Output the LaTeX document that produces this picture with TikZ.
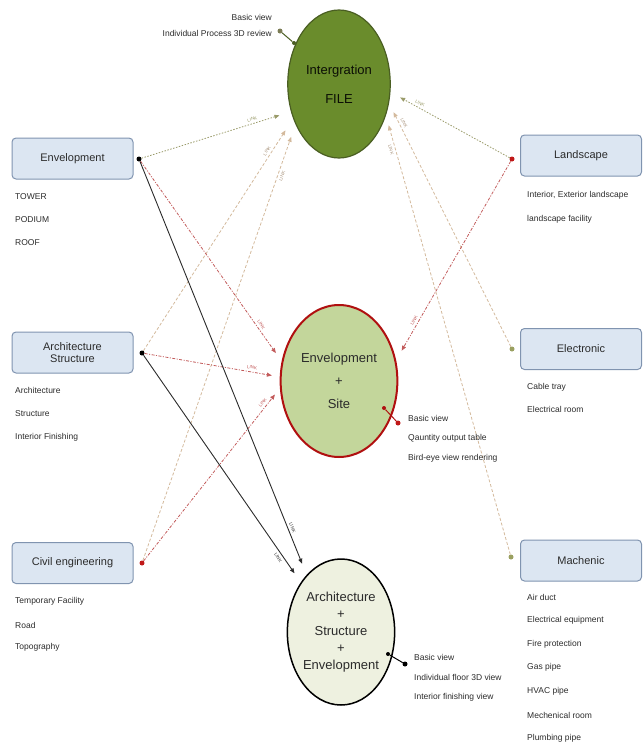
\documentclass[tikz,border=0pt]{standalone}
\usepackage{fontspec}
\setmainfont{Liberation Sans}
\usetikzlibrary{shapes.geometric,arrows.meta}
\definecolor{boxfill}{HTML}{DCE6F2}
\definecolor{boxline}{HTML}{8094B0}
\definecolor{darktext}{HTML}{2B2B2B}
\definecolor{intfill}{HTML}{6A8C2C}
\definecolor{intline}{HTML}{4A5E22}
\definecolor{sitefill}{HTML}{C3D69B}
\definecolor{siteline}{HTML}{B01010}
\definecolor{archfill}{HTML}{EEF1E0}
\definecolor{olivel}{HTML}{9A9B6A}
\definecolor{tanl}{HTML}{D3B99C}
\definecolor{redl}{HTML}{C25A5A}
\definecolor{olivedot}{HTML}{9AA060}
\definecolor{reddot}{HTML}{C01818}

\begin{document}
\begin{tikzpicture}[x=1pt, y=-1pt,
    box/.style={draw=boxline, fill=boxfill, rounded corners=4pt, line width=1pt,
        minimum width=121pt, minimum height=41pt, align=center, text=darktext,
        font=\fontsize{11}{13}\selectfont},
    item/.style={anchor=west, inner sep=0pt, text=darktext, font=\fontsize{8.5}{10}\selectfont},
    note/.style={inner sep=0pt, text=darktext, font=\fontsize{8.5}{10}\selectfont},
    dot/.style={circle, inner sep=0pt, minimum size=5pt},
    link/.style={-{Triangle[length=5pt,width=4pt]}, line width=0.8pt},
    olivelink/.style={link, olivel, dash pattern=on 1.5pt off 1.5pt},
    tanlink/.style={link, tanl, dash pattern=on 3pt off 2pt},
    redlink/.style={link, redl, dash pattern=on 3pt off 1.5pt on 1pt off 1.5pt},
    solidlink/.style={link, darktext, line width=0.9pt},
    lbl/.style={sloped, inner sep=2.5pt, font=\fontsize{4.5}{5}\selectfont}]
    \useasboundingbox (0,0) rectangle (643,747);

    % the three models
    \node[ellipse, draw=intline, fill=intfill, line width=1.2pt, minimum width=101pt,
        minimum height=148pt, align=center, text=black!85!intline,
        font=\fontsize{13}{15}\selectfont] (int) at (339,84) {Intergration\\[14pt]FILE};
    \node[ellipse, draw=siteline, fill=sitefill, line width=2pt, minimum width=100pt,
        minimum height=152pt, align=center, text=darktext,
        font=\fontsize{13}{15}\selectfont] (site) at (339,381) {Envelopment\\[8pt]+\\[8pt]Site};
    \node[ellipse, draw=black, fill=archfill, line width=1.5pt, minimum width=98pt,
        minimum height=146pt, align=center, text=darktext, inner sep=0pt,
        font=\fontsize{13}{15}\selectfont] (arch) at (341,632)
        {Architecture\\[2pt]+\\[2pt]Structure\\[2pt]+\\[2pt]Envelopment};

    % left boxes
    \node[box] (env) at (72.5,158.5) {Envelopment};
    \node[box, font=\fontsize{11}{12}\selectfont] (as) at (72.5,352.5) {Architecture\\Structure};
    \node[box] (civ) at (72.5,563) {Civil engineering};
    \node[item] at (15,197) {TOWER};
    \node[item] at (15,220) {PODIUM};
    \node[item] at (15,243) {ROOF};
    \node[item] at (15,390) {Architecture};
    \node[item] at (15,414) {Structure};
    \node[item] at (15,437) {Interior Finishing};
    \node[item] at (15,601) {Temporary Facility};
    \node[item] at (15,625) {Road};
    \node[item] at (15,647) {Topography};

    % right boxes
    \node[box] (land) at (581,155.5) {Landscape};
    \node[box] (elec) at (581,349) {Electronic};
    \node[box] (mach) at (581,560.5) {Machenic};
    \node[item] at (527,195) {Interior, Exterior landscape};
    \node[item] at (527,219) {landscape facility};
    \node[item] at (527,387) {Cable tray};
    \node[item] at (527,409) {Electrical room};
    \node[item] at (527,597) {Air duct};
    \node[item] at (527,620) {Electrical equipment};
    \node[item] at (527,644) {Fire protection};
    \node[item] at (527,667) {Gas pipe};
    \node[item] at (527,691) {HVAC pipe};
    \node[item] at (527,715) {Mechenical room};
    \node[item] at (527,738) {Plumbing pipe};

    % connection dots
    \node[dot, fill=black] (envd) at (139,159) {};
    \node[dot, fill=black] (asd) at (142,353) {};
    \node[dot, fill=reddot] (civd) at (142,563) {};
    \node[dot, fill=reddot] (landd) at (512,159) {};
    \node[dot, fill=olivedot] (elecd) at (512,349) {};
    \node[dot, fill=olivedot] (machd) at (511,557) {};

    % links to the integration file
    \draw[olivelink, shorten >=12pt] (envd) -- (int.210) node[lbl, pos=0.75, above, olivel] {LINK};
    \draw[tanlink, shorten >=14pt] (asd) -- (int.217) node[lbl, pos=0.85, above, tanl!80!black] {LINK};
    \draw[tanlink, shorten >=13pt] (civd) -- (int.223) node[lbl, pos=0.885, below, tanl!80!black] {LINK};
    \draw[olivelink, shorten >=11pt] (landd) -- (int.351) node[lbl, pos=0.77, above, olivel] {LINK};
    \draw[tanlink, shorten >=10pt] (elecd) -- (int.339) node[lbl, pos=0.91, above, tanl!80!black] {LINK};
    \draw[tanlink, shorten >=10pt] (machd) -- (int.326) node[lbl, pos=0.925, below, tanl!80!black] {LINK};

    % links to envelopment + site
    \draw[redlink, shorten >=10pt] (envd) -- (site.161) node[lbl, pos=0.83, above, redl] {LINK};
    \draw[redlink, shorten >=8pt] (asd) -- (site.176) node[lbl, pos=0.79, above, redl] {LINK};
    \draw[redlink, shorten >=8pt] (civd) -- (site.187) node[lbl, pos=0.9, above, redl] {LINK};
    \draw[redlink, shorten >=11pt] (landd) -- (site.20) node[lbl, pos=0.81, above, redl] {LINK};

    % links to architecture + structure + envelopment
    \draw[solidlink, shorten >=12pt] (envd) -- (arch.121) node[lbl, pos=0.89, above] {LINK};
    \draw[solidlink, shorten >=11pt] (asd) -- (arch.129) node[lbl, pos=0.88, below] {LINK};

    % output notes
    \node[dot, fill=intline, minimum size=4pt] (intb) at (294,43) {};
    \node[dot, fill=olivel!80!black] (intn) at (280,31) {};
    \draw[intline, line width=1pt] (intb) -- (intn);
    \node[note, anchor=east] at (272,17) {Basic view};
    \node[note, anchor=east] at (272,33) {Individual Process 3D review};

    \node[dot, fill=siteline, minimum size=4pt] (siteb) at (384,408) {};
    \node[dot, fill=reddot] (siten) at (398,423) {};
    \draw[siteline, line width=1pt] (siteb) -- (siten);
    \node[note, anchor=west] at (408,418) {Basic view};
    \node[note, anchor=west] at (408,438) {Qauntity output table};
    \node[note, anchor=west] at (408,458) {Bird-eye view rendering};

    \node[dot, fill=black, minimum size=4pt] (archb) at (388,654) {};
    \node[dot, fill=black] (archn) at (405,664) {};
    \draw[black, line width=1pt] (archb) -- (archn);
    \node[note, anchor=west] at (414,657) {Basic view};
    \node[note, anchor=west] at (414,677) {Individual floor 3D view};
    \node[note, anchor=west] at (414,697) {Interior finishing view};
\end{tikzpicture}
\end{document}
